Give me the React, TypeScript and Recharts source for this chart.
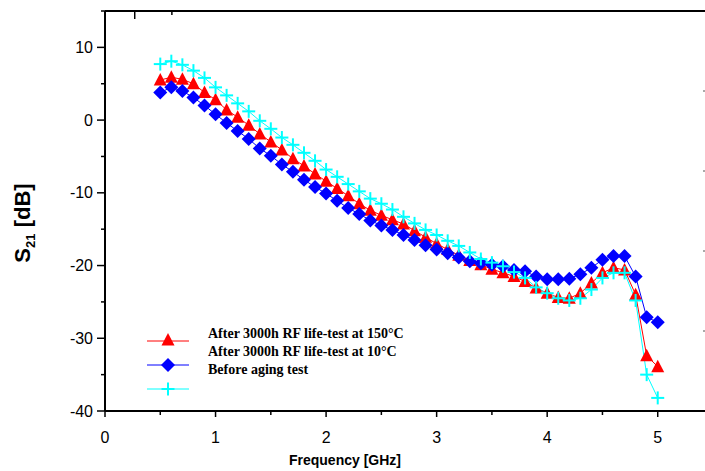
import { LineChart, Line, XAxis, YAxis, Legend } from "recharts";

// S21 vs frequency, three measurement states
const freq = [
  0.5, 0.6, 0.7, 0.8, 0.9, 1.0, 1.1, 1.2, 1.3, 1.4,
  1.5, 1.6, 1.7, 1.8, 1.9, 2.0, 2.1, 2.2, 2.3, 2.4,
  2.5, 2.6, 2.7, 2.8, 2.9, 3.0, 3.1, 3.2, 3.3, 3.4,
  3.5, 3.6, 3.7, 3.8, 3.9, 4.0, 4.1, 4.2, 4.3, 4.4,
  4.5, 4.6, 4.7, 4.8, 4.9, 5.0,
];

const after150 = [
  5.5, 5.9, 5.6, 5.0, 3.8, 2.8, 1.4, 0.4, -0.7, -1.9,
  -3.0, -4.1, -5.3, -6.3, -7.4, -8.4, -9.4, -10.4, -11.5, -12.4,
  -13.1, -13.7, -14.3, -15.2, -16.1, -17.0, -17.8, -18.6, -19.3, -19.9,
  -20.5, -21.0, -21.5, -22.2, -23.1, -23.8, -24.4, -24.5, -23.8, -22.4,
  -21.0, -20.3, -20.6, -24.0, -32.4, -33.9,
];

const after10 = [
  3.8, 4.5, 4.0, 3.1, 2.0, 0.8, -0.4, -1.5, -2.6, -3.9,
  -4.9, -6.1, -7.1, -8.2, -9.2, -10.1, -11.1, -12.1, -12.9, -13.8,
  -14.5, -15.1, -15.8, -16.5, -17.2, -17.8, -18.3, -18.9, -19.4, -19.7,
  -19.9, -20.1, -20.6, -20.8, -21.5, -21.9, -21.9, -21.8, -21.2, -20.3,
  -19.2, -18.7, -18.7, -21.5, -27.1, -27.8,
];

const beforeAging = [
  7.7, 8.1, 7.6, 6.8, 5.8, 4.5, 3.4, 2.3, 1.2, -0.1,
  -1.2, -2.4, -3.4, -4.5, -5.6, -6.8, -7.8, -8.8, -9.8, -10.8,
  -11.5, -12.3, -13.3, -14.2, -15.1, -15.8, -16.6, -17.3, -18.2, -19.1,
  -19.6, -20.1, -20.9, -21.7, -23.0, -23.8, -24.5, -24.8, -24.5, -23.3,
  -21.7, -21.0, -21.0, -24.8, -35.0, -38.2,
];

const legendLabels = [
  "After 3000h RF life-test at 150°C",
  "After 3000h RF life-test at 10°C",
  "Before aging test",
];

const xTicks = [0, 0.5, 1, 1.5, 2, 2.5, 3, 3.5, 4, 4.5, 5, 5.5];
const xTopTicks = [0.55, 1.1, 1.65, 2.2, 2.75, 3.3, 3.85, 4.4, 4.95];
const yTicks = [-40, -35, -30, -25, -20, -15, -10, -5, 0, 5, 10, 15];
const yRightTicks = [-29, -18, -7, 4];

const data = freq.map((f, i) => ({
  f,
  after150: after150[i],
  after10: after10[i],
  before: beforeAging[i],
}));

const RED = "#FF0000";
const BLUE = "#0000FF";
const CYAN = "#00FFFF";
const SANS = "'Liberation Sans', Arial, sans-serif";
const SERIF = "'Liberation Serif', 'Times New Roman', serif";

// markers
const Triangle = ({ cx, cy, fill }: any) => (
  <polygon points={`${cx},${cy - 7} ${cx - 6.5},${cy + 5.5} ${cx + 6.5},${cy + 5.5}`} fill={fill} />
);
const Diamond = ({ cx, cy, fill }: any) => (
  <polygon points={`${cx},${cy - 7} ${cx + 7},${cy} ${cx},${cy + 7} ${cx - 7},${cy}`} fill={fill} />
);
const Cross = ({ cx, cy, stroke }: any) => (
  <g>
    <line x1={cx - 6.5} x2={cx + 6.5} y1={cy} y2={cy} stroke={stroke} strokeWidth={2} />
    <line x1={cx} x2={cx} y1={cy - 6.5} y2={cy + 6.5} stroke={stroke} strokeWidth={2} />
  </g>
);

const triDot = (p: any) => <Triangle key={`t${p.index}`} cx={p.cx} cy={p.cy} fill={RED} />;
const diaDot = (p: any) => <Diamond key={`d${p.index}`} cx={p.cx} cy={p.cy} fill={BLUE} />;
const crossDot = (p: any) => <Cross key={`c${p.index}`} cx={p.cx} cy={p.cy} stroke={CYAN} />;

// axis ticks
const LeftTick = ({ x, y, payload }: any) => {
  const major = payload.value % 10 === 0;
  return (
    <g>
      <line x1={x} x2={x - (major ? 8 : 4)} y1={y} y2={y} stroke="#000" strokeWidth={1.5} />
      {major && (
        <text x={x - 12} y={y} dy={5.5} textAnchor="end" fontSize={16} fontFamily={SANS} fill="#000">
          {payload.value}
        </text>
      )}
    </g>
  );
};

const BottomTick = ({ x, y, payload }: any) => {
  const major = Number.isInteger(payload.value);
  return (
    <g>
      <line x1={x} x2={x} y1={y} y2={y + (major ? 6 : 4)} stroke="#000" strokeWidth={1.5} />
      {major && (
        <text x={x} y={y + 32} textAnchor="middle" fontSize={16} fontFamily={SANS} fill="#000">
          {payload.value}
        </text>
      )}
    </g>
  );
};

const TopTick = ({ x, y, payload }: any) => {
  const major = Math.round(payload.value / 0.55) % 2 === 0;
  return <line x1={x} x2={x} y1={y} y2={y + (major ? 8 : 4)} stroke="#000" strokeWidth={1.5} />;
};

const RightTick = ({ x, y }: any) => (
  <line x1={x} x2={x - 10} y1={y} y2={y} stroke="#555" strokeWidth={1} />
);

const YLabel = () => (
  <text
    transform="translate(30,223) rotate(-90)"
    textAnchor="middle"
    fontSize={22}
    fontWeight="bold"
    fontFamily={SANS}
    fill="#000"
  >
    S<tspan dy={5} fontSize={13}>21</tspan>
    <tspan dy={-5}> [dB]</tspan>
  </text>
);

const XLabel = () => (
  <text x={345} y={465} textAnchor="middle" fontSize={14} fontWeight="bold" fontFamily={SANS} fill="#000">
    Frequency [GHz]
  </text>
);

const ChartLegend = () => (
  <svg width={280} height={80} style={{ display: "block" }}>
    <line x1={7} x2={49} y1={21} y2={21} stroke={RED} strokeWidth={1} />
    <Triangle cx={28} cy={20} fill={RED} />
    <line x1={7} x2={49} y1={45} y2={45} stroke={BLUE} strokeWidth={1} />
    <Diamond cx={28} cy={45} fill={BLUE} />
    <line x1={7} x2={49} y1={69} y2={69} stroke={CYAN} strokeWidth={1} />
    <Cross cx={28} cy={69} stroke={CYAN} />
    {legendLabels.map((t, i) => (
      <text key={t} x={68} y={18 + i * 18} fontSize={14} fontWeight="bold" fontFamily={SERIF} fill="#000">
        {t}
      </text>
    ))}
  </svg>
);

export default function App() {
  return (
    <div
      style={{
        position: "absolute",
        left: 0,
        top: 0,
        width: 705,
        height: 471,
        overflow: "hidden",
        background: "#fff",
      }}
    >
      <LineChart width={720} height={471} data={data} margin={{ top: 0, right: 0, bottom: 30, left: 45 }}>
        <XAxis
          xAxisId="bottom"
          dataKey="f"
          type="number"
          domain={[0, 5.5]}
          ticks={xTicks}
          allowDataOverflow
          height={30}
          tickSize={0}
          tickMargin={0}
          tickLine={false}
          tick={<BottomTick />}
          axisLine={{ stroke: "#000", strokeWidth: 2 }}
          label={<XLabel />}
        />
        <XAxis
          xAxisId="top"
          orientation="top"
          type="number"
          domain={[0, 5.5]}
          ticks={xTopTicks}
          allowDataOverflow
          height={11}
          tickSize={0}
          tickMargin={0}
          tickLine={false}
          tick={<TopTick />}
          axisLine={{ stroke: "#000", strokeWidth: 2 }}
        />
        <YAxis
          yAxisId="left"
          type="number"
          domain={[-40, 15]}
          ticks={yTicks}
          allowDataOverflow
          width={60}
          tickSize={0}
          tickMargin={0}
          tickLine={false}
          tick={<LeftTick />}
          axisLine={{ stroke: "#000", strokeWidth: 2 }}
          label={<YLabel />}
        />
        <YAxis
          yAxisId="right"
          orientation="right"
          type="number"
          domain={[-40, 15]}
          ticks={yRightTicks}
          allowDataOverflow
          width={7}
          tickSize={0}
          tickMargin={0}
          tickLine={false}
          tick={<RightTick />}
          axisLine={{ stroke: "#000", strokeWidth: 2 }}
        />
        <Legend
          layout="horizontal"
          verticalAlign="middle"
          align="center"
          content={<ChartLegend />}
          wrapperStyle={{ left: 140, top: 320, width: 280, height: 80 }}
        />
        <Line
          xAxisId="bottom"
          yAxisId="left"
          dataKey="after150"
          stroke={RED}
          strokeWidth={1}
          dot={triDot}
          activeDot={false}
          isAnimationActive={false}
        />
        <Line
          xAxisId="bottom"
          yAxisId="left"
          dataKey="after10"
          stroke={BLUE}
          strokeWidth={1}
          dot={diaDot}
          activeDot={false}
          isAnimationActive={false}
        />
        <Line
          xAxisId="bottom"
          yAxisId="left"
          dataKey="before"
          stroke={CYAN}
          strokeWidth={1}
          dot={crossDot}
          activeDot={false}
          isAnimationActive={false}
        />
      </LineChart>
    </div>
  );
}
